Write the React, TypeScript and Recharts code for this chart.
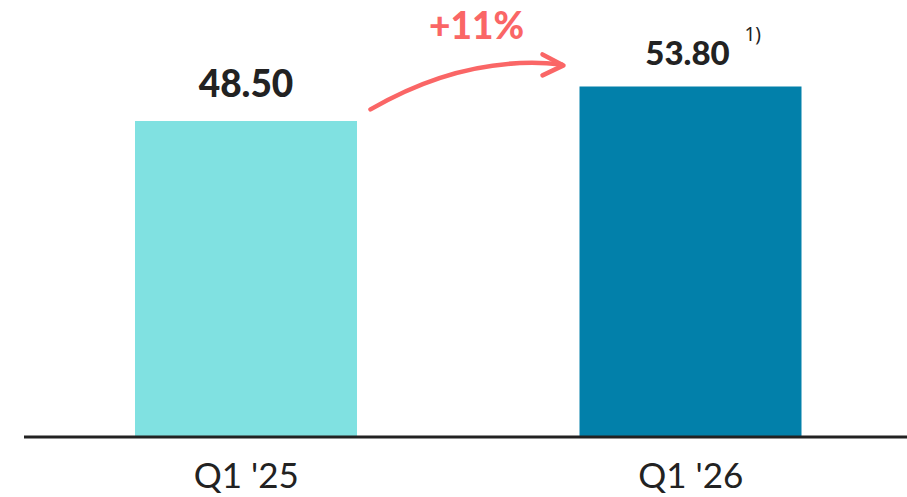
import { BarChart, Bar, XAxis, YAxis, Cell, LabelList } from 'recharts';

const categories = ["Q1 '25", "Q1 '26"];
const values = [48.5, 53.8];
const footnotes = ['', '1)'];

const barColors = ['#80E1E1', '#0280AA'];
const accent = '#FA6666';
const ink = '#222222';

// label size per bar (the second one is set a touch smaller in the source)
const labelSizes = [37, 33];
const labelGaps = [24, 21];

const data = categories.map((category, i) => ({
  category,
  value: values[i],
  note: footnotes[i],
}));

const growth = Math.round((values[1] / values[0] - 1) * 100);

function GrowthArrow({ x, y }: { x: number; y: number }) {
  // curve anchored to the top-left corner of the second bar
  const sx = x - 209;
  const sy = y + 23;
  const cx = x - 114;
  const cy = y - 32;
  const ex = x - 18;
  const ey = y - 22;
  return (
    <g>
      <path
        d={`M${sx},${sy} Q${cx},${cy} ${ex},${ey}`}
        fill="none"
        stroke={accent}
        strokeWidth={4.5}
        strokeLinecap="round"
      />
      <path
        d={`M${x - 37},${y - 32} L${x - 16},${y - 21} L${x - 37},${y - 11}`}
        fill="none"
        stroke={accent}
        strokeWidth={4.5}
        strokeLinecap="round"
        strokeLinejoin="round"
      />
      <text
        x={x - 103}
        y={y - 47}
        textAnchor="middle"
        fill={accent}
        fontFamily="Lato"
        fontWeight={900}
        fontSize={37}
      >
        {`+${growth}%`}
      </text>
    </g>
  );
}

function ValueLabel(props: any) {
  const { x, y, width, value, index } = props;
  const i = index ?? values.indexOf(value);
  const center = x + width / 2 - (i === 1 ? 3 : 0);
  return (
    <g>
      <text
        x={center}
        y={y - labelGaps[i]}
        textAnchor="middle"
        fill={ink}
        fontFamily="Lato"
        fontWeight={900}
        fontSize={labelSizes[i]}
      >
        {Number(value).toFixed(2)}
      </text>
      {footnotes[i] && (
        <text x={center + 57} y={y - 45} fill={ink} fontFamily="Noto Sans" fontSize={19}>
          {footnotes[i]}
        </text>
      )}
      {i === 1 && <GrowthArrow x={x} y={y} />}
    </g>
  );
}

function CategoryTick(props: any) {
  const { x, y, payload } = props;
  return (
    <text x={x} y={y + 43} textAnchor="middle" fill={ink} fontFamily="Lato" fontSize={35}>
      {payload.value}
    </text>
  );
}

export default function App() {
  return (
    <div style={{ position: 'absolute', left: 0, top: 0, width: 907, height: 497, overflow: 'hidden' }}>
      <BarChart width={913} height={497} data={data} margin={{ top: 46, right: 0, bottom: 0, left: 24 }}>
        <XAxis
          dataKey="category"
          height={60}
          tickLine={false}
          axisLine={{ stroke: ink, strokeWidth: 3 }}
          tick={<CategoryTick />}
          interval={0}
        />
        <YAxis hide domain={[0, 60]} />
        <Bar dataKey="value" barSize={222} isAnimationActive={false}>
          {data.map((d, i) => (
            <Cell key={d.category} fill={barColors[i]} />
          ))}
          <LabelList dataKey="value" content={<ValueLabel />} />
        </Bar>
      </BarChart>
    </div>
  );
}
